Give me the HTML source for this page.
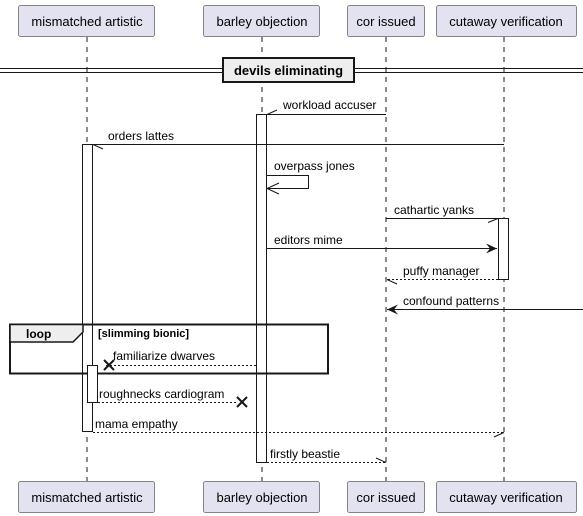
<!DOCTYPE html>
<html><head><meta charset="utf-8"><style>
html,body{margin:0;padding:0;background:#fff;}
svg{display:block;font-family:"Liberation Sans",sans-serif;}
</style></head><body>
<svg width="583" height="516" viewBox="0 0 583 516" xmlns="http://www.w3.org/2000/svg">
<defs>
<marker id="fa" markerWidth="12" markerHeight="10" refX="11" refY="5" orient="auto" markerUnits="userSpaceOnUse"><path d="M0,0 L11,5 L0,10 L4,5 Z" fill="#181818"/></marker>
</defs>
<g stroke="#181818" stroke-width="1" stroke-dasharray="5,5" fill="none">
<line x1="87" y1="37" x2="87" y2="481"/>
<line x1="262" y1="37" x2="262" y2="481"/>
<line x1="386" y1="37" x2="386" y2="481"/>
<line x1="504" y1="37" x2="504" y2="481"/>
</g>
<g font-size="13" fill="#000">
<rect x="18.5" y="5.5" width="136" height="31" rx="2" fill="#E2E2F0" stroke="#181818" stroke-width="0.5"/>
<text x="87" y="26" text-anchor="middle">mismatched artistic</text>
<rect x="203.5" y="5.5" width="116" height="31" rx="2" fill="#E2E2F0" stroke="#181818" stroke-width="0.5"/>
<text x="262" y="26" text-anchor="middle">barley objection</text>
<rect x="347.5" y="5.5" width="77" height="31" rx="2" fill="#E2E2F0" stroke="#181818" stroke-width="0.5"/>
<text x="386" y="26" text-anchor="middle">cor issued</text>
<rect x="436.5" y="5.5" width="140" height="31" rx="2" fill="#E2E2F0" stroke="#181818" stroke-width="0.5"/>
<text x="506" y="26" text-anchor="middle">cutaway verification</text>
<rect x="18.5" y="481.5" width="136" height="31" rx="2" fill="#E2E2F0" stroke="#181818" stroke-width="0.5"/>
<text x="87" y="502" text-anchor="middle">mismatched artistic</text>
<rect x="203.5" y="481.5" width="116" height="31" rx="2" fill="#E2E2F0" stroke="#181818" stroke-width="0.5"/>
<text x="262" y="502" text-anchor="middle">barley objection</text>
<rect x="347.5" y="481.5" width="77" height="31" rx="2" fill="#E2E2F0" stroke="#181818" stroke-width="0.5"/>
<text x="386" y="502" text-anchor="middle">cor issued</text>
<rect x="436.5" y="481.5" width="140" height="31" rx="2" fill="#E2E2F0" stroke="#181818" stroke-width="0.5"/>
<text x="506" y="502" text-anchor="middle">cutaway verification</text>
</g>
<!-- divider -->
<line x1="0" y1="68.5" x2="583" y2="68.5" stroke="#181818"/>
<line x1="0" y1="72.5" x2="583" y2="72.5" stroke="#181818"/>
<rect x="223" y="58" width="131" height="24" fill="#EEEEEE" stroke="#181818" stroke-width="2"/>
<text x="288.5" y="75" text-anchor="middle" font-size="13" font-weight="bold">devils eliminating</text>
<!-- activations -->
<g fill="#fff" stroke="#181818">
<rect x="256.5" y="114.5" width="10" height="348"/>
<rect x="82.5" y="144.5" width="10" height="287"/>
<rect x="498.5" y="218.5" width="10" height="61"/>
</g>
<g stroke="#181818" fill="none">
<!-- workload accuser -->
<line x1="386" y1="114.5" x2="267" y2="114.5"/>
<line x1="267" y1="114.5" x2="277" y2="110"/>
<!-- orders lattes -->
<line x1="504" y1="144.5" x2="93" y2="144.5"/>
<line x1="93" y1="144.5" x2="103" y2="149"/>
<!-- overpass jones -->
<polyline points="267,175.5 308.5,175.5 308.5,188.5 267,188.5"/>
<polyline points="279,183 267,188.5 279,194"/>
<!-- cathartic yanks -->
<line x1="386" y1="218.5" x2="498" y2="218.5"/>
<line x1="498" y1="218.5" x2="488" y2="222.5"/>
<!-- editors mime -->
<line x1="267" y1="248.5" x2="497" y2="248.5" marker-end="url(#fa)"/>
<!-- puffy manager -->
<line x1="498" y1="279.5" x2="387" y2="279.5" stroke-dasharray="2,2"/>
<line x1="387" y1="279.5" x2="397" y2="284"/>
<!-- confound patterns -->
<line x1="583" y1="309.5" x2="387" y2="309.5" marker-end="url(#fa)"/>
</g>
<g font-size="12" fill="#000">
<text x="283" y="109">workload accuser</text>
<text x="108" y="140">orders lattes</text>
<text x="274" y="170">overpass jones</text>
<text x="394" y="214">cathartic yanks</text>
<text x="274" y="244">editors mime</text>
<text x="403" y="275">puffy manager</text>
<text x="403" y="305">confound patterns</text>
</g>
<!-- loop -->
<rect x="10" y="324.5" width="318" height="49" fill="none" stroke="#181818" stroke-width="2"/>
<path d="M10,324.5 L83,324.5 L83,332 L73,342 L10,342 Z" fill="#EEEEEE" stroke="#181818" stroke-width="1.5"/>
<text x="26" y="338" font-size="12" font-weight="bold">loop</text>
<text x="98" y="337" font-size="11" font-weight="bold">[slimming bionic]</text>
<rect x="87.5" y="365.5" width="10" height="37" fill="#fff" stroke="#181818"/>
<g stroke="#181818" fill="none">
<line x1="256" y1="365.5" x2="104" y2="365.5" stroke-dasharray="2,2"/>
<line x1="104" y1="360" x2="114" y2="370" stroke-width="2"/>
<line x1="114" y1="360" x2="104" y2="370" stroke-width="2"/>
<line x1="98" y1="402.5" x2="238" y2="402.5" stroke-dasharray="2,2"/>
<line x1="213" y1="397" x2="223" y2="407" stroke-width="2" transform="translate(24,0)"/>
<line x1="223" y1="397" x2="213" y2="407" stroke-width="2" transform="translate(24,0)"/>
<line x1="93" y1="432.5" x2="504" y2="432.5" stroke-dasharray="2,2"/>
<line x1="504" y1="432.5" x2="494" y2="437"/>
<line x1="267" y1="462.5" x2="386" y2="462.5" stroke-dasharray="2,2"/>
<line x1="386" y1="462.5" x2="376" y2="458"/>
</g>
<g font-size="12" fill="#000">
<text x="113" y="360">familiarize dwarves</text>
<text x="99" y="398">roughnecks cardiogram</text>
<text x="95" y="428">mama empathy</text>
<text x="270" y="458">firstly beastie</text>
</g>
</svg>
</body></html>
